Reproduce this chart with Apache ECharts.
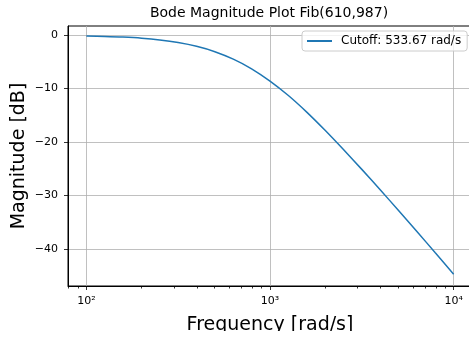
<!DOCTYPE html>
<html>
<head>
<meta charset="utf-8">
<script src="https://cdn.jsdelivr.net/npm/echarts@6/dist/echarts.min.js"></script>
<style>
  html, body { margin: 0; padding: 0; background: #fff; overflow: hidden; }
  #chart { width: 473px; height: 338px; }
</style>
</head>
<body>
<div id="chart"></div>
<script>
// frequencies (rad/s) and magnitudes (dB)
const freqs = [100, 126, 158, 200, 251, 316, 398, 501, 631, 794, 1000, 1259, 1585, 1995, 2512, 3162, 3981, 5012, 6310, 7943, 10000];
const magnitudes = [-0.15, -0.24, -0.37, -0.58, -0.91, -1.4, -2.1, -3.1, -4.5, -6.3, -8.6, -11.3, -14.4, -17.8, -21.4, -25.1, -28.9, -32.8, -36.7, -40.7, -44.7];
const majorTicks = [100, 1000, 10000];
const minorTicks = [80, 90, 200, 300, 400, 500, 600, 700, 800, 900, 2000, 3000, 4000, 5000, 6000, 7000, 8000, 9000];
const yTicks = [-40, -30, -20, -10, 0];
const seriesName = "Cutoff: 533.67 rad/s";

const font = "DejaVu Sans";
const sup = { 2: "\u00b2", 3: "\u00b3", 4: "\u2074" };
const logMin = 1.9, logMax = 4.1;

const chart = echarts.init(document.getElementById("chart"));

chart.setOption({
  animation: false,
  textStyle: { fontFamily: font, color: "#000" },
  grid: {
    left: 68, right: 1, top: 26, bottom: 52,
    show: true, borderColor: "#000", borderWidth: 1
  },
  legend: {
    left: 302, top: 31,
    padding: [4, 6, 4, 4],
    itemWidth: 25, itemHeight: 14,
    itemStyle: { opacity: 0 },
    backgroundColor: "rgba(255,255,255,0.8)",
    borderColor: "#cccccc", borderWidth: 1, borderRadius: 3,
    textStyle: { fontFamily: font, fontSize: 12, color: "#000", padding: [0, 0, 0, 4] },
    data: [seriesName]
  },
  xAxis: [
    {
      type: "log", logBase: 10,
      min: Math.pow(10, logMin), max: Math.pow(10, logMax),
      axisLine: { show: true, onZero: false, lineStyle: { color: "#000", width: 1 } },
      axisTick: { show: true, length: 4, lineStyle: { color: "#000", width: 0.8 }, customValues: majorTicks },
      axisLabel: {
        fontFamily: font, fontSize: 11, color: "#000", margin: 10,
        customValues: majorTicks,
        formatter: v => "10" + sup[Math.round(Math.log10(v))]
      },
      splitLine: { show: true, lineStyle: { color: "#b0b0b0", width: 0.8 } }
    },
    {
      // helper axis in log10 units, only for the minor ticks
      type: "value", position: "bottom",
      min: logMin, max: logMax,
      axisLine: { show: true, onZero: false, lineStyle: { color: "rgba(0,0,0,0)" } },
      axisTick: { show: true, length: 2.5, lineStyle: { color: "#000", width: 0.8 }, customValues: minorTicks.map(v => Math.log10(v)) },
      axisLabel: { show: false },
      splitLine: { show: false }
    }
  ],
  yAxis: {
    type: "value",
    min: -46.9, max: 1.7,
    axisLine: { show: true, onZero: false, lineStyle: { color: "#000", width: 1 } },
    axisTick: { show: true, length: 4, lineStyle: { color: "#000", width: 0.8 }, customValues: yTicks },
    axisLabel: {
      fontFamily: font, fontSize: 11, color: "#000", margin: 10,
      customValues: yTicks,
      formatter: v => (v < 0 ? "\u2212" + Math.abs(v) : String(v))
    },
    splitLine: { show: true, lineStyle: { color: "#b0b0b0", width: 0.8 } }
  },
  series: [
    {
      name: seriesName,
      type: "line",
      xAxisIndex: 0,
      symbol: "none",
      smooth: 0.3,
      lineStyle: { color: "#1f77b4", width: 1.5 },
      itemStyle: { color: "#1f77b4" },
      data: freqs.map((f, i) => [f, magnitudes[i]])
    },
    {
      // empty series so the minor-tick axis gets built
      name: "minor",
      type: "line",
      xAxisIndex: 1,
      data: []
    }
  ],
  graphic: [
    {
      type: "text", x: 269, y: 13,
      style: { text: "Bode Magnitude Plot Fib(610,987)", font: "14px DejaVu Sans", fill: "#000", align: "center", verticalAlign: "middle" }
    },
    {
      type: "text", x: 270, y: 325,
      style: { text: "Frequency [rad/s]", font: "19px DejaVu Sans", fill: "#000", align: "center", verticalAlign: "middle" }
    },
    {
      // the reference is cropped just under the x label
      type: "rect", z: 100,
      shape: { x: 0, y: 331, width: 473, height: 10 },
      style: { fill: "#fff" }
    },
    {
      type: "text", x: 19, y: 156, rotation: Math.PI / 2,
      style: { text: "Magnitude [dB]", font: "19px DejaVu Sans", fill: "#000", align: "center", verticalAlign: "middle" }
    }
  ]
});
</script>
</body>
</html>
